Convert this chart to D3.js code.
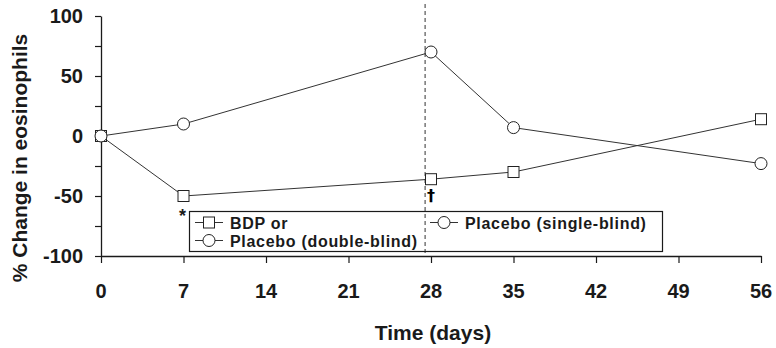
<!DOCTYPE html>
<html>
<head>
<meta charset="utf-8">
<script src="https://cdn.jsdelivr.net/npm/d3@7"></script>
<style>
  html, body { margin: 0; padding: 0; background: #fff; }
  svg { display: block; font-family: "Liberation Sans", Arial, Helvetica, sans-serif; font-weight: bold; }
</style>
</head>
<body>
<svg id="chart" width="776" height="348"></svg>
<script>
// ---- data ----
const days = [0, 7, 28, 35, 56];
const bdpValues = [0, -50, -36, -30, 14];
const placeboValues = [0, 10, 70, 7, -23];
const xTicks = [0, 7, 14, 21, 28, 35, 42, 49, 56];
const yTicks = [-100, -75, -50, -25, 0, 25, 50, 75, 100];
const yTickLabels = [-100, -50, 0, 50, 100];
const switchDay = 27.5;
const legendItems = [
  { label: "BDP or", marker: "square", row: 0, col: 0 },
  { label: "Placebo (double-blind)", marker: "circle", row: 1, col: 0 },
  { label: "Placebo (single-blind)", marker: "circle", row: 0, col: 1 }
];
const annotations = [
  { day: 7, text: "*" },
  { day: 28, text: "\u2020" }
];

// ---- layout ----
const svg = d3.select("#chart");
const x = d3.scaleLinear().domain([0, 56]).range([101, 761]);
const y = d3.scaleLinear().domain([-100, 100]).range([256, 16]);
const ink = "#1a1a1a";

// axes
const xAxis = d3.axisBottom(x).tickValues(xTicks).tickSize(7).tickSizeOuter(0).tickFormat("");
const gx = svg.append("g").attr("transform", `translate(0,${y(-100)})`).call(xAxis);
gx.select(".domain").attr("stroke", ink).attr("stroke-width", 1.3);
gx.selectAll(".tick line").attr("stroke", ink).attr("stroke-width", 1.2);

const yAxis = d3.axisLeft(y).tickValues(yTicks).tickSize(6).tickSizeOuter(0).tickFormat("");
const gy = svg.append("g").attr("transform", `translate(${x(0)},0)`).call(yAxis);
gy.select(".domain").attr("stroke", ink).attr("stroke-width", 1.3);
gy.selectAll(".tick line").attr("stroke", ink).attr("stroke-width", 1.2);

// tick labels
svg.append("g").selectAll("text").data(xTicks).join("text")
  .attr("x", d => x(d)).attr("y", 298)
  .attr("text-anchor", "middle").attr("font-size", 20).attr("fill", ink)
  .text(d => d);
svg.append("g").selectAll("text").data(yTickLabels).join("text")
  .attr("x", 83).attr("y", d => y(d) + 7)
  .attr("text-anchor", "end").attr("font-size", 20).attr("fill", ink)
  .text(d => d);

// axis titles
svg.append("text").attr("x", 433).attr("y", 340).attr("text-anchor", "middle")
  .attr("font-size", 21).attr("fill", ink).text("Time (days)");
svg.append("text").attr("transform", "translate(27,158) rotate(-90)")
  .attr("text-anchor", "middle").attr("font-size", 21).attr("fill", ink)
  .text("% Change in eosinophils");

// dashed reference line
svg.append("line")
  .attr("x1", x(switchDay)).attr("x2", x(switchDay))
  .attr("y1", 4).attr("y2", y(-100))
  .attr("stroke", "#555").attr("stroke-width", 1.2).attr("stroke-dasharray", "4,3");

// series
const line = d3.line().x(d => x(d[0])).y(d => y(d[1]));
const bdp = days.map((d, i) => [d, bdpValues[i]]);
const placebo = days.map((d, i) => [d, placeboValues[i]]);
const S = 11, R = 6;

svg.append("path").datum(bdp).attr("d", line).attr("fill", "none").attr("stroke", "#333").attr("stroke-width", 1);
svg.append("path").datum(placebo).attr("d", line).attr("fill", "none").attr("stroke", "#333").attr("stroke-width", 1);

svg.append("g").selectAll("rect").data(bdp).join("rect")
  .attr("x", d => x(d[0]) - S / 2).attr("y", d => y(d[1]) - S / 2)
  .attr("width", S).attr("height", S)
  .attr("fill", "#fff").attr("stroke", "#222").attr("stroke-width", 1);
svg.append("g").selectAll("circle").data(placebo).join("circle")
  .attr("cx", d => x(d[0])).attr("cy", d => y(d[1])).attr("r", R)
  .attr("fill", "#fff").attr("stroke", "#222").attr("stroke-width", 1);

// annotations
svg.append("text").attr("x", x(annotations[0].day) - 1).attr("y", 222).attr("text-anchor", "middle")
  .attr("font-size", 18).attr("fill", ink).text(annotations[0].text);
svg.append("text").attr("x", x(annotations[1].day)).attr("y", 201).attr("text-anchor", "middle")
  .attr("font-family", "'DejaVu Sans', sans-serif")
  .attr("font-size", 16).attr("fill", "#000").text(annotations[1].text);

// legend
const lg = svg.append("g");
lg.append("rect").attr("x", 189.5).attr("y", 211.5).attr("width", 473).attr("height", 40)
  .attr("fill", "none").attr("stroke", ink).attr("stroke-width", 1.2);
const colX = [209, 444], rowY = [222.5, 240.5];
legendItems.forEach(it => {
  const cx = colX[it.col], cy = rowY[it.row];
  lg.append("line").attr("x1", cx - 14).attr("x2", cx + 14).attr("y1", cy).attr("y2", cy)
    .attr("stroke", "#333").attr("stroke-width", 1);
  if (it.marker === "square") {
    lg.append("rect").attr("x", cx - 5.5).attr("y", cy - 5.5).attr("width", 11).attr("height", 11)
      .attr("fill", "#fff").attr("stroke", "#222");
  } else {
    lg.append("circle").attr("cx", cx).attr("cy", cy).attr("r", 6)
      .attr("fill", "#fff").attr("stroke", "#222");
  }
  lg.append("text").attr("x", cx + 21).attr("y", cy + 6).attr("font-size", 16).attr("fill", ink)
    .attr("letter-spacing", 0.7)
    .text(it.label);
});
</script>
</body>
</html>
